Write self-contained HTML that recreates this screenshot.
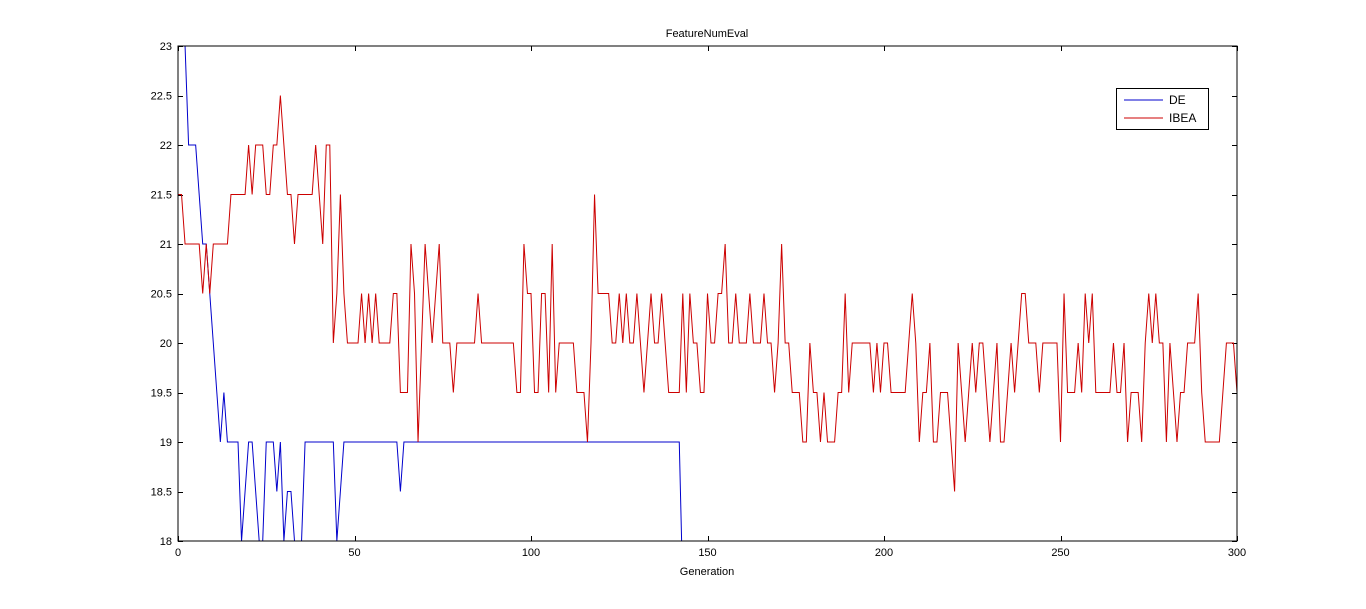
<!DOCTYPE html>
<html><head><meta charset="utf-8"><style>
html,body{margin:0;padding:0;background:#fff;width:1366px;height:609px;overflow:hidden}
svg{display:block;font-family:"Liberation Sans",sans-serif}
</style></head><body>
<svg id="chart" width="1366" height="609" viewBox="0 0 1366 609" xmlns="http://www.w3.org/2000/svg">
<defs><clipPath id="plotclip"><rect x="178" y="46" width="1059" height="495"/></clipPath></defs>
<rect x="178" y="46" width="1059" height="495" fill="#fff"/>
<text x="707" y="37" font-size="11" text-anchor="middle">FeatureNumEval</text>
<text x="707" y="575" font-size="11" text-anchor="middle">Generation</text>
<g id="axes"></g>
<g id="series" clip-path="url(#plotclip)"></g>
<rect x="178" y="46" width="1059" height="495" fill="none" stroke="#000" stroke-width="1"/>
<g>
<rect x="1116.5" y="88.5" width="92" height="41" fill="#fff" stroke="#000"/>
<line x1="1124" y1="100" x2="1163" y2="100" stroke="#0000cc"/>
<text x="1169" y="104" font-size="12">DE</text>
<line x1="1124" y1="118" x2="1163" y2="118" stroke="#cc0000"/>
<text x="1169" y="122" font-size="12">IBEA</text>
</g>
</svg>
<script>
const xTicks = [0, 50, 100, 150, 200, 250, 300];
const yTicks = [18, 18.5, 19, 19.5, 20, 20.5, 21, 21.5, 22, 22.5, 23];
const ibeaValues = [
21.5,21.5,21,21,21,21,21,20.5,21,20.5,
21,21,21,21,21,21.5,21.5,21.5,21.5,21.5,
22,21.5,22,22,22,21.5,21.5,22,22,22.5,
22,21.5,21.5,21,21.5,21.5,21.5,21.5,21.5,22,
21.5,21,22,22,20,20.5,21.5,20.5,20,20,
20,20,20.5,20,20.5,20,20.5,20,20,20,
20,20.5,20.5,19.5,19.5,19.5,21,20.5,19,20,
21,20.5,20,20.5,21,20,20,20,19.5,20,
20,20,20,20,20,20.5,20,20,20,20,
20,20,20,20,20,20,19.5,19.5,21,20.5,
20.5,19.5,19.5,20.5,20.5,19.5,21,19.5,20,20,
20,20,20,19.5,19.5,19.5,19,20,21.5,20.5,
20.5,20.5,20.5,20,20,20.5,20,20.5,20,20,
20.5,20,19.5,20,20.5,20,20,20.5,20,19.5,
19.5,19.5,19.5,20.5,19.5,20.5,20,20,19.5,19.5,
20.5,20,20,20.5,20.5,21,20,20,20.5,20,
20,20,20.5,20,20,20,20.5,20,20,19.5,
20,21,20,20,19.5,19.5,19.5,19,19,20,
19.5,19.5,19,19.5,19,19,19,19.5,19.5,20.5,
19.5,20,20,20,20,20,20,19.5,20,19.5,
20,20,19.5,19.5,19.5,19.5,19.5,20,20.5,20,
19,19.5,19.5,20,19,19,19.5,19.5,19.5,19,
18.5,20,19.5,19,19.5,20,19.5,20,20,19.5,
19,19.5,20,19,19,19.5,20,19.5,20,20.5,
20.5,20,20,20,19.5,20,20,20,20,20,
19,20.5,19.5,19.5,19.5,20,19.5,20.5,20,20.5,
19.5,19.5,19.5,19.5,19.5,20,19.5,19.5,20,19,
19.5,19.5,19.5,19,20,20.5,20,20.5,20,20,
19,20,19.5,19,19.5,19.5,20,20,20,20.5,
19.5,19,19,19,19,19,19.5,20,20,20,
19.5];
const deValues = [
24,23.5,23,22,22,22,21.5,21,21,20.5,
20,19.5,19,19.5,19,19,19,19,18,18.5,
19,19,18.5,18,18,19,19,19,18.5,19,
18,18.5,18.5,18,18,18,19,19,19,19,
19,19,19,19,19,18,18.5,19,19,19,
19,19,19,19,19,19,19,19,19,19,
19,19,19,18.5,19,19,19,19,19,19,
19,19,19,19,19,19,19,19,19,19,
19,19,19,19,19,19,19,19,19,19,
19,19,19,19,19,19,19,19,19,19,
19,19,19,19,19,19,19,19,19,19,
19,19,19,19,19,19,19,19,19,19,
19,19,19,19,19,19,19,19,19,19,
19,19,19,19,19,19,19,19,19,19,
19,19,19,17.5];

const X0=178, X1=1237, Y0=541, Y1=46;
const xScale = v => X0 + (v - 0) / 300 * (X1 - X0);
const yScale = v => Y0 - (v - 18) / 5 * (Y0 - Y1);
const NS = "http://www.w3.org/2000/svg";
const axes = document.getElementById('axes');
const series = document.getElementById('series');

xTicks.forEach(t => {
  const x = Math.round(xScale(t)) + 0.5;
  [[Y0, Y0-5],[Y1, Y1+5]].forEach(([a,b]) => {
    const l = document.createElementNS(NS,'line');
    l.setAttribute('x1',x); l.setAttribute('x2',x); l.setAttribute('y1',a); l.setAttribute('y2',b);
    l.setAttribute('stroke','#000');
    
    
    axes.appendChild(l);
  });
  const tx = document.createElementNS(NS,'text');
  tx.setAttribute('x', xScale(t)); tx.setAttribute('y', 556);
  tx.setAttribute('font-size','11'); tx.setAttribute('text-anchor','middle');
  tx.textContent = t;
  
  
  axes.appendChild(tx);
});
yTicks.forEach(t => {
  const y = Math.round(yScale(t)) + 0.5;
  [[X0, X0+5],[X1, X1-5]].forEach(([a,b]) => {
    const l = document.createElementNS(NS,'line');
    l.setAttribute('y1',y); l.setAttribute('y2',y); l.setAttribute('x1',a); l.setAttribute('x2',b);
    l.setAttribute('stroke','#000');
    
    
    axes.appendChild(l);
  });
  const tx = document.createElementNS(NS,'text');
  tx.setAttribute('x', 172); tx.setAttribute('y', yScale(t) + 4);
  tx.setAttribute('font-size','11'); tx.setAttribute('text-anchor','end');
  tx.textContent = t;
  
  
  axes.appendChild(tx);
});

function drawLine(vals, color, name) {
  const p = document.createElementNS(NS,'polyline');
  p.setAttribute('points', vals.map((v,i) => xScale(i).toFixed(2) + ',' + yScale(v).toFixed(2)).join(' '));
  p.setAttribute('fill','none'); p.setAttribute('stroke', color); p.setAttribute('stroke-width','1');
  
  
  series.appendChild(p);
}
drawLine(deValues, '#0000cc', 'de-series-line');
drawLine(ibeaValues, '#cc0000', 'ibea-series-line');
</script>
</body></html>
